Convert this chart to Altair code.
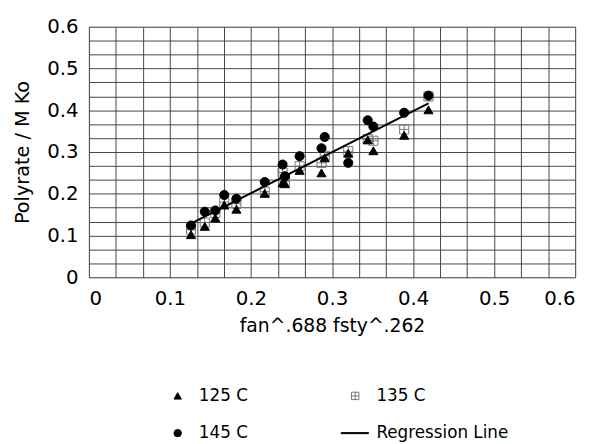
import altair as alt
import pandas as pd

# ---- data ----
x_pts = [0.126, 0.143, 0.156, 0.167, 0.182, 0.217, 0.239, 0.242, 0.260, 0.287, 0.291, 0.320, 0.344, 0.351, 0.389, 0.419]
y_125 = [0.102, 0.122, 0.142, 0.173, 0.163, 0.201, 0.226, 0.224, 0.256, 0.250, 0.286, 0.297, 0.329, 0.303, 0.340, 0.401]
y_135 = [0.114, 0.131, 0.154, 0.180, 0.176, 0.205, 0.251, 0.230, 0.266, 0.274, 0.291, 0.302, 0.331, 0.327, 0.354, 0.433]
y_145 = [0.124, 0.157, 0.160, 0.197, 0.188, 0.228, 0.270, 0.242, 0.290, 0.309, 0.336, 0.274, 0.376, 0.361, 0.394, 0.435]

reg_x = [0.122, 0.419]
reg_y = [0.125, 0.4165]

# legend entries are laid out column by column
series_names = ["125 C", "145 C", "135 C", "Regression Line"]
grid_vals = [round(i / 30, 6) for i in range(19)]

FONT = "DejaVu Sans"
GRID = "#444444"

rows = []
for name, ys in [("135 C", y_135), ("125 C", y_125), ("145 C", y_145)]:
    for xv, yv in zip(x_pts, ys):
        rows.append({"x": xv, "y": yv, "series": name})
pts = pd.DataFrame(rows)
reg = pd.DataFrame({"x": reg_x, "y": reg_y})

sq_cross = "M-1,-1H1V1H-1Z M0,-1V1 M-1,0H1"
line_sym = "M-3.8,-0.14H3.6V0.14H-3.8Z"

legend = alt.Legend(
    title=None, orient="none", legendX=81.5, legendY=365.5, columns=2,
    columnPadding=92, rowPadding=20, symbolSize=56, labelOffset=13,
    labelFont=FONT, labelFontSize=17, labelColor="black", padding=0,
    symbolStrokeWidth=1,
)

lab_expr = ("abs(datum.value*10 - round(datum.value*10)) < 1e-6 ? "
            "(datum.value == 0 ? '0' : format(datum.value, '.1f')) : ''")

xscale = alt.Scale(domain=[0, 0.6], nice=False, zero=False)
yscale = alt.Scale(domain=[0, 0.6], nice=False, zero=False)

xaxis = alt.Axis(values=grid_vals, tickCount=100, labelExpr=lab_expr, title="fan^.688 fsty^.262",
                 ticks=False, domain=False, labelPadding=12, labelOverlap=False,
                 labelFont=FONT, labelFontSize=20, labelColor="black",
                 titleFont=FONT, titleFontSize=19, titleFontWeight="normal",
                 titleColor="black", titlePadding=8,
                 grid=True, gridColor=GRID, gridWidth=1, gridOpacity=1)
yaxis = alt.Axis(values=grid_vals, tickCount=100, labelExpr=lab_expr, title="Polyrate / M Ko",
                 ticks=False, domain=False, labelPadding=11, labelOverlap=False,
                 labelFont=FONT, labelFontSize=20, labelColor="black",
                 titleFont=FONT, titleFontSize=19.5, titleFontWeight="normal",
                 titleColor="black", titlePadding=14,
                 grid=True, gridColor=GRID, gridWidth=1, gridOpacity=1)

points = alt.Chart(pts).mark_point(size=85, opacity=1, strokeWidth=1).encode(
    x=alt.X("x:Q", scale=xscale, axis=xaxis),
    y=alt.Y("y:Q", scale=yscale, axis=yaxis),
    shape=alt.Shape("series:N", scale=alt.Scale(domain=series_names,
                    range=["triangle-up", "circle", sq_cross, line_sym]), legend=legend),
    fill=alt.Fill("series:N", scale=alt.Scale(domain=series_names,
                  range=["black", "black", "transparent", "black"]), legend=legend),
    stroke=alt.Stroke("series:N", scale=alt.Scale(domain=series_names,
                      range=["black", "black", "#777777", "black"]), legend=legend),
)

line = alt.Chart(reg).mark_line(color="black", strokeWidth=2).encode(
    x=alt.X("x:Q", scale=xscale),
    y=alt.Y("y:Q", scale=yscale),
)

chart = alt.layer(points, line).properties(
    width=493, height=254,
    autosize=alt.AutoSizeParams(type="none"),
    padding={"left": 82, "top": 16, "right": 13, "bottom": 164},
).configure_view(stroke=GRID, strokeWidth=1).configure(background="white")

chart.save("out.html", embed_options={"renderer": "svg", "actions": False})
